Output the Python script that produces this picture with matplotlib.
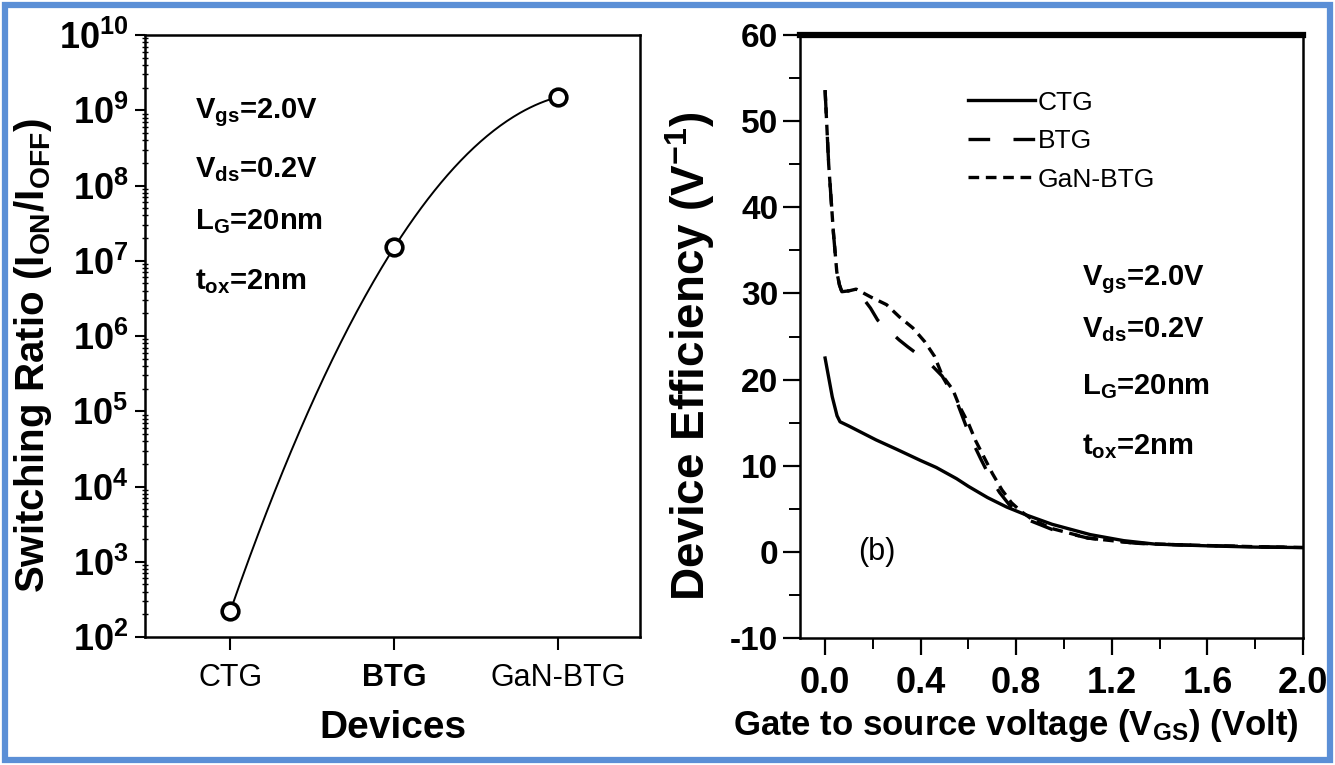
import numpy as np
import matplotlib
matplotlib.use("Agg")
import matplotlib.pyplot as plt
from matplotlib.patches import Rectangle
from matplotlib.ticker import LogLocator, MultipleLocator, FixedLocator, NullFormatter

plt.rcParams["font.family"] = ["Liberation Sans", "DejaVu Sans"]
plt.rcParams["mathtext.default"] = "regular"
plt.rcParams["mathtext.fontset"] = "custom"
plt.rcParams["mathtext.rm"] = "Liberation Sans"
plt.rcParams["mathtext.bf"] = "Liberation Sans:bold"

# ---- panel (a): switching ratio per device ----
devices = ["CTG", "BTG", "GaN-BTG"]
switching_ratio = [2.2e2, 1.5e7, 1.5e9]

# ---- panel (b): device efficiency vs gate voltage ----
vgs_ctg = [0.0, 0.01, 0.03, 0.05, 0.0625, 0.1, 0.213, 0.3, 0.4, 0.465, 0.55, 0.6, 0.68,
           0.76, 0.84, 0.95, 1.11, 1.25, 1.38, 1.6, 1.8, 2.0]
eff_ctg = [22.5, 21.0, 18.0, 15.8, 15.1, 14.6, 13.0, 11.9, 10.6, 9.8, 8.5, 7.6, 6.3,
           5.2, 4.3, 3.2, 2.0, 1.3, 0.9, 0.7, 0.55, 0.5]

vgs_btg = [0.0, 0.015, 0.035, 0.049, 0.06, 0.07, 0.1, 0.13, 0.19, 0.22,
           0.31, 0.346, 0.4375, 0.49, 0.549, 0.59, 0.62, 0.653, 0.6875, 0.73,
           0.77, 0.81, 0.86, 0.95, 1.1, 1.3, 1.5, 1.8, 2.0]
eff_btg = [53.6, 45.0, 37.0, 32.5, 31.0, 30.2, 30.3, 30.5, 28.3, 26.9,
           24.6, 23.8, 21.9, 20.4, 17.6, 14.6, 12.6, 10.7, 8.8, 6.9,
           5.5, 4.6, 3.6, 2.6, 1.6, 1.0, 0.8, 0.6, 0.5]

vgs_gan = [0.0, 0.015, 0.035, 0.049, 0.06, 0.07, 0.1, 0.13, 0.19, 0.257,
           0.31, 0.367, 0.417, 0.458, 0.49, 0.535, 0.5625, 0.6, 0.63, 0.665,
           0.70, 0.74, 0.78, 0.82, 0.87, 0.95, 1.1, 1.3, 1.5, 1.8, 2.0]
eff_gan = [53.6, 45.0, 37.0, 32.5, 31.0, 30.2, 30.3, 30.5, 29.6, 28.7,
           27.3, 26.0, 24.4, 22.7, 20.5, 18.8, 16.9, 14.9, 12.9, 11.0,
           9.1, 7.2, 5.7, 4.7, 3.7, 2.7, 1.6, 1.0, 0.8, 0.6, 0.5]

conditions = [r"V$_{gs}$=2.0V", r"V$_{ds}$=0.2V", r"L$_{G}$=20nm", r"t$_{ox}$=2nm"]

W, H = 1335, 765
fig = plt.figure(figsize=(W / 100, H / 100), dpi=100)


def fx(px):
    return px / W


def fy(py):
    return 1 - py / H


# ---------------- panel (a) ----------------
ax1 = fig.add_axes([fx(145), fy(637), fx(640 - 145), (637 - 35) / H])
xpos = np.arange(len(devices))
logv = np.log10(switching_ratio)
coef = np.polyfit(xpos, logv, 2)
xs = np.linspace(xpos[0], xpos[-1], 200)
ax1.plot(xs, 10 ** np.polyval(coef, xs), color="black", lw=1.4)
ax1.plot(xpos, switching_ratio, "o", mfc="white", mec="black", ms=12, mew=2.6)
ax1.set_yscale("log")
ax1.set_ylim(1e2, 1e10)
ax1.set_xlim(-0.52, 2.5)
ax1.yaxis.set_minor_locator(LogLocator(base=10, subs=np.arange(2, 10), numticks=20))
ax1.yaxis.set_minor_formatter(NullFormatter())
ax1.set_yticks([10.0 ** k for k in range(2, 11)])
ax1.set_yticklabels([r"10$^{%d}$" % k for k in range(2, 11)], fontsize=26, fontweight="bold")
ax1.set_xticks(xpos)
ax1.set_xticklabels(devices, fontsize=22)
ax1.get_xticklabels()[1].set_fontweight("bold")
ax1.tick_params(axis="y", which="major", direction="out", length=7, width=1.5, pad=5)
ax1.tick_params(axis="y", which="minor", direction="inout", length=5, width=1.0)
ax1.tick_params(axis="x", which="major", direction="out", length=9, width=1.5, pad=10)
for s in ax1.spines.values():
    s.set_linewidth(1.8)
ax1.set_xlabel("Devices", fontsize=28, fontweight="bold", labelpad=12)
ax1.set_ylabel(r"Switching Ratio (I$_{ON}$/I$_{OFF}$)", fontsize=29, fontweight="bold")
ax1.yaxis.set_label_coords(fx(54 - 145) / fx(640 - 145), 1 - (355 - 35) / 602)
for txt, py in zip(conditions, [113, 170, 222, 282]):
    fig.text(fx(195), fy(py), txt, fontsize=21, fontweight="bold", va="center", ha="left")

# ---------------- panel (b) ----------------
ax2 = fig.add_axes([fx(800), fy(638), fx(1303 - 800), (638 - 35) / H])
ax2.plot(vgs_ctg, eff_ctg, color="black", lw=2.4, ls="-", label="CTG")
ax2.plot(vgs_btg, eff_btg, color="black", lw=2.4, ls=(0, (7, 7)), label="BTG")
ax2.plot(vgs_gan, eff_gan, color="black", lw=2.4, ls=(0, (3.2, 2)), label="GaN-BTG")
ax2.set_xlim(-0.105, 2.0)
ax2.set_ylim(-10, 60)
ax2.xaxis.set_major_locator(FixedLocator([0.0, 0.4, 0.8, 1.2, 1.6, 2.0]))
ax2.xaxis.set_minor_locator(MultipleLocator(0.2))
ax2.yaxis.set_minor_locator(MultipleLocator(5))
ax2.set_xticklabels(["0.0", "0.4", "0.8", "1.2", "1.6", "2.0"], fontsize=26, fontweight="bold")
ax2.set_yticks(np.arange(-10, 61, 10))
ax2.set_yticklabels([str(v) for v in range(-10, 61, 10)], fontsize=24, fontweight="bold")
ax2.tick_params(axis="both", which="major", direction="out", length=12, width=1.6)
ax2.tick_params(axis="both", which="minor", direction="out", length=8, width=1.4)
ax2.tick_params(axis="x", which="major", pad=8)
for s in ax2.spines.values():
    s.set_linewidth(1.8)
ax2.spines["top"].set_linewidth(4.5)
ax2.set_xlabel(r"Gate to source voltage (V$_{GS}$) (Volt)", fontsize=25, fontweight="bold", labelpad=8)
ax2.xaxis.set_label_coords((1016 - 800) / 503, -(725 - 638) / 603)
ax2.xaxis.label.set_va("center")
ax2.set_ylabel(r"Device Efficiency (V$^{-1}$)", fontsize=33, fontweight="bold")
ax2.yaxis.set_label_coords(fx(717 - 800) / fx(1303 - 800), 1 - (356 - 35) / 603)
leg = ax2.legend(loc="upper left", bbox_to_anchor=(fx(957 - 800) / fx(503), 1 - (80 - 35) / 603),
                 frameon=False, fontsize=19, handlelength=2.55, handletextpad=0.12,
                 labelspacing=0.55, borderaxespad=0)
leg.get_lines()[1].set_linestyle((0, (6.5, 7)))
for txt, py in zip(conditions, [280, 330, 387, 447]):
    fig.text(fx(1082), fy(py), txt, fontsize=21, fontweight="bold", va="center", ha="left")
fig.text(fx(877), fy(552), "(b)", fontsize=22, va="center", ha="center")

# outer frame
fig.patches.append(Rectangle((fx(5), fy(760)), fx(1325), (755) / H, transform=fig.transFigure,
                             fill=False, edgecolor="#5b8fd6", linewidth=4.5))

fig.savefig("out.png", dpi=100)
